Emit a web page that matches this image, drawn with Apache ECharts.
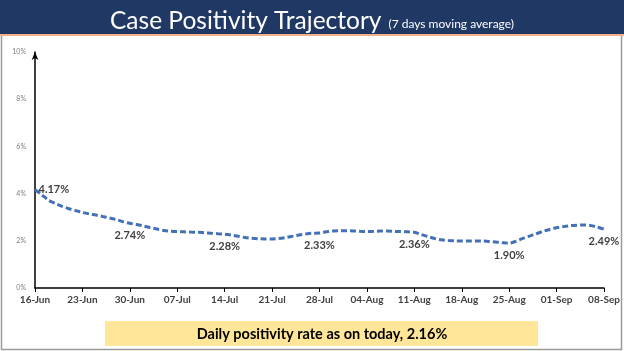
<!DOCTYPE html>
<html>
<head>
<meta charset="utf-8">
<script src="https://cdn.jsdelivr.net/npm/echarts@6/dist/echarts.min.js"></script>
<style>html,body{margin:0;padding:0;background:#fff;}#c{width:624px;height:351px;}</style>
</head>
<body>
<div id="c"></div>
<script>
// Daily 7-day moving average of case positivity (%), 16-Jun to 08-Sep
const startDate = '2020-06-16';
const dayCount = 85;
const positivity = [
  4.17, 3.95, 3.72, 3.58, 3.46, 3.36, 3.28, 3.20, 3.14, 3.09,
  3.03, 2.97, 2.90, 2.81, 2.74, 2.69, 2.63, 2.56, 2.50, 2.44,
  2.41, 2.39, 2.38, 2.37, 2.36, 2.34, 2.32, 2.30, 2.28, 2.24,
  2.19, 2.14, 2.11, 2.09, 2.08, 2.08, 2.10, 2.14, 2.19, 2.25,
  2.29, 2.32, 2.33, 2.38, 2.42, 2.43, 2.43, 2.42, 2.40, 2.39,
  2.40, 2.41, 2.41, 2.40, 2.39, 2.38, 2.36, 2.27, 2.18, 2.10,
  2.04, 2.01, 2.00, 1.99, 1.99, 1.99, 1.99, 1.97, 1.95, 1.92,
  1.90, 1.98, 2.10, 2.20, 2.30, 2.40, 2.48, 2.55, 2.60, 2.64,
  2.66, 2.67, 2.65, 2.58, 2.49
];
const labelledDays = [0, 14, 28, 42, 56, 70, 84];
const yTicks = [0, 2, 4, 6, 8, 10];
const titleMain = 'Case Positivity Trajectory';
const titleSub = '(7 days moving average)';
const footerText = 'Daily positivity rate as on today, 2.16%';

const months = ['Jan','Feb','Mar','Apr','May','Jun','Jul','Aug','Sep','Oct','Nov','Dec'];
const categories = [];
const d0 = new Date(startDate + 'T00:00:00Z');
for (let i = 0; i < dayCount; i++) {
  const d = new Date(d0.getTime() + i * 86400000);
  categories.push(String(d.getUTCDate()).padStart(2, '0') + '-' + months[d.getUTCMonth()]);
}

const seriesData = positivity.map((v, i) => {
  const item = { value: v };
  if (labelledDays.includes(i)) {
    item.label = i === 0
      ? { show: true, position: 'right', distance: 3 }
      : { show: true, position: 'bottom', distance: 6, offset: [i === 84 ? 0 : -6, 0] };
  }
  return item;
});

const chart = echarts.init(document.getElementById('c'), null, { renderer: 'canvas' });
chart.setOption({
  backgroundColor: '#ffffff',
  animation: false,
  title: {
    left: 'center',
    top: 4,
    text: '{a|' + titleMain + '} {b|' + titleSub + '}',
    textStyle: {
      fontWeight: 'normal',
      rich: {
        a: { fontFamily: 'Lato', fontSize: 24.5, fontWeight: 'normal', color: '#ffffff', verticalAlign: 'bottom' },
        b: { fontFamily: 'Lato', fontSize: 12, fontWeight: 'normal', color: '#ffffff', verticalAlign: 'bottom', padding: [0, 0, 4, 2] }
      }
    }
  },
  graphic: [
    { type: 'rect', z: -1, shape: { x: 0, y: 0, width: 624, height: 34 }, style: { fill: '#203864' } },
    { type: 'rect', z: -1, shape: { x: 0, y: 34, width: 624, height: 2 }, style: { fill: '#f4b08a' } },
    { type: 'line', shape: { x1: 1.5, y1: 36, x2: 1.5, y2: 350 }, style: { stroke: '#9a9a9a', lineWidth: 1.5 } },
    { type: 'line', shape: { x1: 621.5, y1: 36, x2: 621.5, y2: 350 }, style: { stroke: '#9a9a9a', lineWidth: 1.5 } },
    { type: 'line', shape: { x1: 1, y1: 349.5, x2: 622, y2: 349.5 }, style: { stroke: '#9a9a9a', lineWidth: 1.5 } },
    { type: 'rect', shape: { x: 105, y: 321, width: 433, height: 25 }, style: { fill: '#ffe699' } },
    { type: 'text', x: 322, y: 334, style: { text: footerText, fontFamily: 'Lato', fontWeight: 'bold', fontSize: 14.5, fill: '#000000', align: 'center', verticalAlign: 'middle' } }
  ],
  grid: { left: 35, right: 20, top: 52, bottom: 63, containLabel: false },
  xAxis: {
    type: 'category',
    data: categories,
    boundaryGap: false,
    axisLine: { lineStyle: { color: '#000000', width: 1.5 } },
    axisTick: { show: true, interval: 6, length: 4, lineStyle: { color: '#000000', width: 1 } },
    axisLabel: { interval: 6, fontFamily: 'Lato', fontWeight: 'bold', fontSize: 10, color: '#404040', margin: 7 },
    splitLine: { show: false }
  },
  yAxis: {
    type: 'value',
    min: yTicks[0],
    max: yTicks[yTicks.length - 1],
    interval: yTicks[1] - yTicks[0],
    axisLine: { show: true, symbol: ['none', 'arrow'], symbolSize: [5, 8], lineStyle: { color: '#000000', width: 1.5 } },
    axisTick: { show: false },
    axisLabel: { formatter: '{value}%', fontFamily: 'Lato', fontSize: 7, color: '#808080', margin: 9 },
    splitLine: { show: false }
  },
  series: [{
    type: 'line',
    data: seriesData,
    smooth: 0.3,
    symbol: 'circle',
    symbolSize: 1,
    showSymbol: true,
    itemStyle: { color: 'rgba(0,0,0,0)', borderWidth: 0 },
    lineStyle: { color: '#4470b8', width: 3, type: [6, 3] },
    label: {
      show: false,
      formatter: p => p.value.toFixed(2) + '%',
      fontFamily: 'Lato', fontWeight: 'bold', fontSize: 11, color: '#404040'
    },
    labelLayout: { hideOverlap: false }
  }]
});
</script>
</body>
</html>
